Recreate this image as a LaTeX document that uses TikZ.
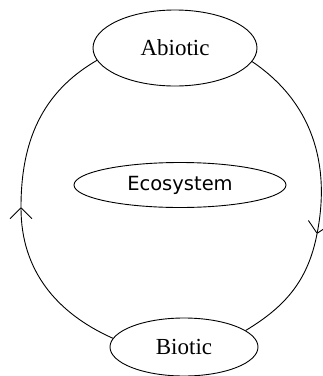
\documentclass[tikz,border=0pt]{standalone}
\usepackage{fontspec}
\usepackage{tikz}
\usetikzlibrary{shapes.geometric,arrows.meta}
\newfontfamily\serifface{Liberation Serif}
\newfontfamily\sansface{DejaVu Sans}

\tikzset{
	part/.style={draw, ellipse, inner sep=0pt, line width=0.9pt, font=\serifface\fontsize{23}{23}\selectfont},
	flow/.style={line width=0.9pt, -{Straight Barb[length=11pt, width=22pt, line width=0.9pt]}}
}

\begin{document}
\begin{tikzpicture}[x=1pt, y=1pt]
		\useasboundingbox (0,0) rectangle (323,-376);
		\node[part, minimum width=164pt, minimum height=76pt] (abio) at (175,-48) {Abiotic};
		\node[part, minimum width=212pt, minimum height=45pt, font=\sansface\fontsize{19.5}{19.5}\selectfont] (eco) at (180,-185) {Ecosystem};
		\node[part, minimum width=148pt, minimum height=58pt] (bio) at (184,-347) {Biotic};
		\coordinate (lmid) at (21,-207);
		\coordinate (rmid) at (317,-234);
		% left side, going up
		\draw[flow] (bio.173) to[out=156, in=270] (lmid);
		\draw[line width=0.9pt] (lmid) to[out=90, in=210] (abio.189);
		% right side, going down
		\draw[flow] (abio.-10) to[out=-34, in=79] (rmid);
		\draw[line width=0.9pt] (rmid) to[out=-101, in=31] (bio.15);
	\end{tikzpicture}
\end{document}
